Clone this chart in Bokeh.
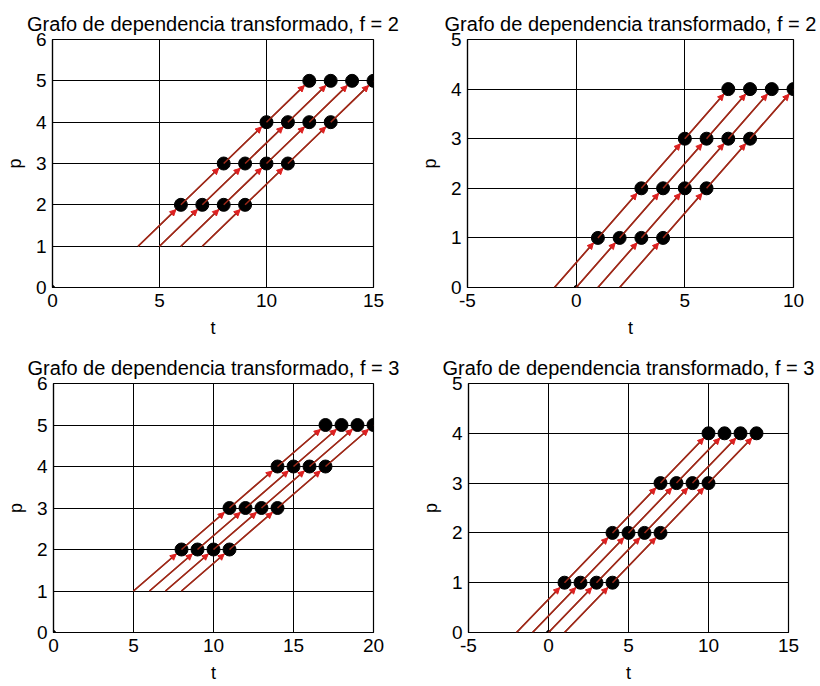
from math import hypot

from bokeh.embed import file_html
from bokeh.layouts import column, row
from bokeh.models import Arrow, ColumnDataSource, FixedTicker, NormalHead, Range1d
from bokeh.plotting import figure
from bokeh.resources import INLINE

FONT = "Liberation Sans"
LINE_COLOR = "#9e2a1a"
HEAD_COLOR = "#dd2020"

# Each chain is one column of the dependence graph: successive t positions,
# one per processor level p (levels are shared by all chains of a panel).
titles = [
    "Grafo de dependencia transformado, f = 2",
    "Grafo de dependencia transformado, f = 2",
    "Grafo de dependencia transformado, f = 3",
    "Grafo de dependencia transformado, f = 3",
]

chains_a = [[4, 6, 8, 10, 12], [5, 7, 9, 11, 13], [6, 8, 10, 12, 14], [7, 9, 11, 13, 15]]
levels_a = [1, 2, 3, 4, 5]

chains_b = [[-1, 1, 3, 5, 7], [0, 2, 4, 6, 8], [1, 3, 5, 7, 9], [2, 4, 6, 8, 10]]
levels_b = [0, 1, 2, 3, 4]

chains_c = [[5, 8, 11, 14, 17], [6, 9, 12, 15, 18], [7, 10, 13, 16, 19], [8, 11, 14, 17, 20]]
levels_c = [1, 2, 3, 4, 5]

chains_d = [[-2, 1, 4, 7, 10], [-1, 2, 5, 8, 11], [0, 3, 6, 9, 12], [1, 4, 7, 10, 13]]
levels_d = [0, 1, 2, 3, 4]

x_ranges = [(0, 15), (-5, 10), (0, 20), (-5, 15)]
y_ranges = [(0, 6), (0, 5), (0, 6), (0, 5)]
x_ticks = [[0, 5, 10, 15], [-5, 0, 5, 10], [0, 5, 10, 15, 20], [-5, 0, 5, 10, 15]]
y_ticks = [[0, 1, 2, 3, 4, 5, 6], [0, 1, 2, 3, 4, 5], [0, 1, 2, 3, 4, 5, 6], [0, 1, 2, 3, 4, 5]]

# figure sizes and borders (left, right, top, bottom) in pixels
sizes = [(410, 340), (410, 340), (410, 346), (410, 346)]
borders = [(52, 37, 39, 48), (57, 27, 34, 51), (53, 37, 43, 50), (58, 32, 39, 54)]

MARKER_SIZE = 13


def make_panel(title, chains, levels, xr, yr, xt, yt, size, border):
    w, h = size
    bl, br, bt, bb = border
    p = figure(
        width=w, height=h, output_backend="svg", toolbar_location=None,
        x_range=Range1d(*xr), y_range=Range1d(*yr),
        min_border_left=bl, min_border_right=br, min_border_top=bt, min_border_bottom=bb,
        background_fill_color="white", border_fill_color="white",
    )
    p.title.text = title
    p.title.align = "center"
    p.title.text_font = FONT
    p.title.text_font_size = "20px"
    p.title.text_font_style = "normal"
    p.title.text_color = "black"
    p.title.standoff = 10

    p.outline_line_color = "black"
    p.outline_line_width = 1.2

    p.xaxis.ticker = FixedTicker(ticks=xt)
    p.yaxis.ticker = FixedTicker(ticks=yt)
    p.xaxis.major_label_overrides = {v: str(v) for v in xt}
    p.yaxis.major_label_overrides = {v: str(v) for v in yt}
    for ax in (p.xaxis, p.yaxis):
        ax.axis_line_color = "black"
        ax.axis_line_width = 1.2
        ax.major_tick_in = 0
        ax.major_tick_out = 0
        ax.minor_tick_in = 0
        ax.minor_tick_out = 0
        ax.major_label_text_font = FONT
        ax.major_label_text_font_size = "19px"
        ax.major_label_text_color = "black"
        ax.axis_label_text_font = FONT
        ax.axis_label_text_font_size = "18px"
        ax.axis_label_text_font_style = "normal"
        ax.axis_label_text_color = "black"
    p.xaxis.axis_label = "t"
    p.yaxis.axis_label = "p"
    p.xaxis.major_label_standoff = 6
    p.yaxis.major_label_standoff = 6
    p.xaxis.axis_label_standoff = 8
    p.yaxis.axis_label_standoff = 8

    p.grid.grid_line_color = "black"
    p.grid.grid_line_width = 1
    p.grid.grid_line_alpha = 1
    p.xgrid.ticker = FixedTicker(ticks=xt)
    p.ygrid.ticker = FixedTicker(ticks=yt)

    # pixel scale, used to stop each arrow head at the edge of the node marker
    sx = (w - bl - br) / (xr[1] - xr[0])
    sy = (h - bt - bb) / (yr[1] - yr[0])
    r = MARKER_SIZE / 2 + 0.5

    xs0, ys0, xs1, ys1 = [], [], [], []
    nodes_t, nodes_p = [], []
    for ch in chains:
        p.line(ch, levels, line_color=LINE_COLOR, line_width=1.5)
        for i in range(1, len(ch)):
            t0, t1 = ch[i - 1], ch[i]
            q0, q1 = levels[i - 1], levels[i]
            L = hypot((t1 - t0) * sx, (q1 - q0) * sy)
            k = r / L
            xs0.append(t0)
            ys0.append(q0)
            xs1.append(t1 - (t1 - t0) * k)
            ys1.append(q1 - (q1 - q0) * k)
            nodes_t.append(t1)
            nodes_p.append(q1)

    src = ColumnDataSource(dict(x0=xs0, y0=ys0, x1=xs1, y1=ys1))
    p.add_layout(Arrow(
        x_start="x0", y_start="y0", x_end="x1", y_end="y1", source=src,
        line_color=LINE_COLOR, line_width=1.5,
        end=NormalHead(size=6, fill_color=HEAD_COLOR, line_color=HEAD_COLOR, line_width=1),
    ))

    # origin marker
    p.scatter([0], [0], size=4, color="black")
    p.scatter(nodes_t, nodes_p, size=MARKER_SIZE, fill_color="black", line_color="black")
    return p


all_chains = [chains_a, chains_b, chains_c, chains_d]
all_levels = [levels_a, levels_b, levels_c, levels_d]
panels = [
    make_panel(titles[i], all_chains[i], all_levels[i], x_ranges[i], y_ranges[i],
               x_ticks[i], y_ticks[i], sizes[i], borders[i])
    for i in range(4)
]

layout = column(row(panels[0], panels[1], spacing=0), row(panels[2], panels[3], spacing=0), spacing=0)

open("out.html", "w").write(file_html(layout, INLINE))
